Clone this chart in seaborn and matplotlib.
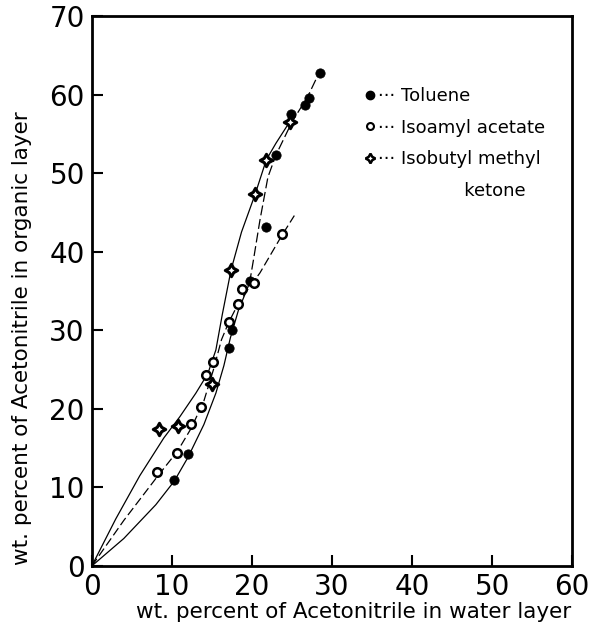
import matplotlib
matplotlib.use("Agg")
import matplotlib.pyplot as plt
import seaborn as sns
import pandas as pd
from matplotlib.lines import Line2D

sns.set_theme(style="white")
plt.rcParams['font.family'] = ['DejaVu Sans']

# measured points
tol_x = [10.3, 12.0, 17.2, 17.5, 19.7, 21.7, 23.0, 24.9, 26.6, 27.1, 28.5]
tol_y = [10.9, 14.2, 27.8, 30.0, 36.3, 43.1, 52.3, 57.5, 58.7, 59.5, 62.7]
iso_x = [8.2, 10.7, 12.4, 13.6, 14.3, 15.2, 17.1, 18.25, 18.8, 20.3, 23.7]
iso_y = [12.0, 14.4, 18.1, 20.2, 24.3, 26.0, 31.0, 33.3, 35.2, 36.0, 42.2]
ket_x = [8.4, 10.75, 15.0, 17.4, 20.4, 21.8, 24.7]
ket_y = [17.4, 17.8, 23.2, 37.7, 47.3, 51.7, 56.5]

# smooth curves
tol_cx = [0, 4, 8, 10.3, 12, 14, 15.5, 16.5, 17.3, 18.3, 19.7]
tol_cy = [0, 3.5, 7.8, 10.8, 13.8, 18, 22, 25.5, 29, 32.5, 36]
tol_ux = [19.7, 20.2, 21.0, 22.0, 23.0, 25.0, 27.0, 28.5]
tol_uy = [36.0, 39.0, 44.0, 49.5, 52.3, 56.5, 59.8, 63.0]
iso_cx = [0, 4, 8.2, 10.7, 12.4, 14, 15.2, 16.2, 17.1, 18.25, 19.5, 21, 23.7, 25.3]
iso_cy = [0, 5.8, 11.4, 14.6, 17.5, 21, 25, 28.8, 31, 33.3, 35.2, 37.3, 42, 44.6]
ket_cx = [0, 3, 6, 9, 11, 13, 14.5, 15.5, 16.3, 17.4, 18.7, 20.4, 21.8, 23, 24.7]
ket_cy = [0, 6, 11.5, 16.3, 19, 22, 24.5, 27.5, 32, 37.7, 42.5, 47.3, 51.7, 53.8, 56.5]

legend_labels = ["··· Toluene", "··· Isoamyl acetate", "··· Isobutyl methyl", "               ketone"]
xticks = [0, 10, 20, 30, 40, 50, 60]
yticks = [0, 10, 20, 30, 40, 50, 60, 70]

fig = plt.figure(figsize=(5.96, 6.27), dpi=100)
ax = fig.add_axes([0.154, 0.0973, 0.806, 0.8772])

lk = dict(color="black", lw=0.9)
sns.lineplot(x=tol_cx, y=tol_cy, ax=ax, sort=False, estimator=None, **lk)
sns.lineplot(x=tol_ux, y=tol_uy, ax=ax, sort=False, estimator=None, linestyle=(0, (8, 3)), **lk)
sns.lineplot(x=iso_cx, y=iso_cy, ax=ax, sort=False, estimator=None, linestyle=(0, (7, 3)), **lk)
sns.lineplot(x=ket_cx, y=ket_cy, ax=ax, sort=False, estimator=None, **lk)

sns.scatterplot(x=tol_x, y=tol_y, ax=ax, marker="o", s=45, color="black", edgecolor="black", zorder=5)
sns.scatterplot(x=iso_x, y=iso_y, ax=ax, marker="o", s=38, facecolor="white", edgecolor="black", linewidth=1.8, zorder=5)
sns.scatterplot(x=ket_x, y=ket_y, ax=ax, marker=(4, 1, 0), s=80, facecolor="white", edgecolor="black", linewidth=2.2, zorder=6)

ax.set_xlim(0, 60)
ax.set_ylim(0, 70)
ax.set_xticks(xticks)
ax.set_yticks(yticks)
ax.tick_params(direction="in", length=8, width=1.5, labelsize=20, pad=5, bottom=True, left=True,
               colors="black", labelcolor="black")
for s in ax.spines.values():
    s.set_linewidth(2)
    s.set_color("black")
ax.set_xlabel("wt. percent of Acetonitrile in water layer", fontsize=15.5, color="black")
ax.set_ylabel("wt. percent of Acetonitrile in organic layer", fontsize=15.5, color="black")
ax.xaxis.set_label_coords(0.545, -0.065)
ax.yaxis.set_label_coords(-0.125, 0.415)

handles = [
    Line2D([], [], marker="o", ls="none", color="black", markersize=6),
    Line2D([], [], marker="o", ls="none", markerfacecolor="white", markeredgecolor="black", markeredgewidth=1.5, markersize=5),
    Line2D([], [], marker=(4, 1, 0), ls="none", markerfacecolor="white", markeredgecolor="black", markeredgewidth=1.8, markersize=7),
    Line2D([], [], ls="none"),
]
leg = ax.legend(handles, legend_labels, loc="upper left", bbox_to_anchor=(0.535, 0.9), frameon=False,
                handlelength=0.6, handletextpad=0.1, labelspacing=0.75, fontsize=13)
for t in leg.get_texts():
    t.set_color("black")

fig.savefig("out.png", dpi=100)
